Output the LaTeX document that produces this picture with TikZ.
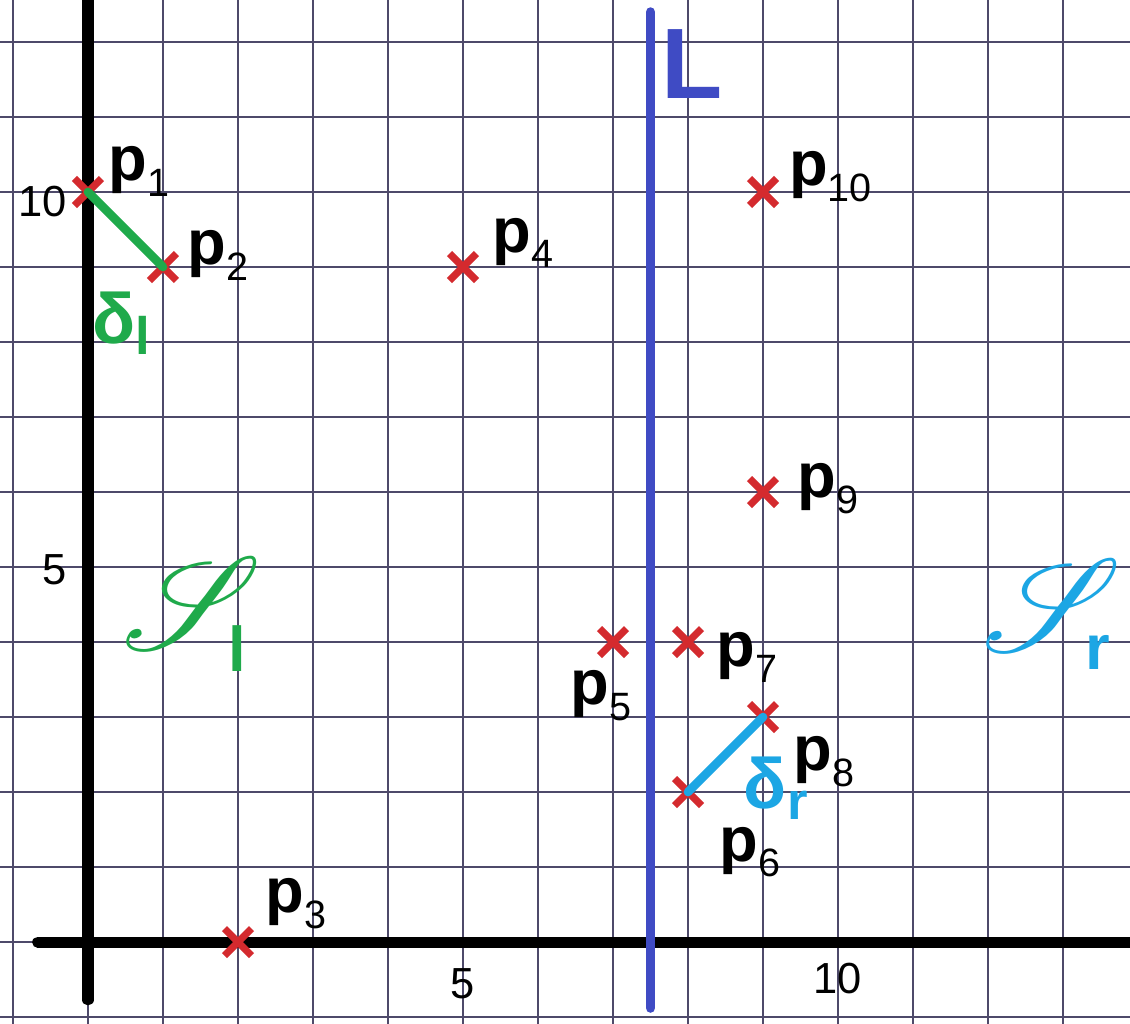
\documentclass[tikz,border=0pt]{standalone}
\usepackage{fontspec}
\setmainfont{Liberation Sans}
\DeclareFontFamily{U}{rsfs}{\skewchar\font127 }
\DeclareFontShape{U}{rsfs}{m}{n}{<-> rsfs10}{}
\usepackage{mathrsfs}
\usetikzlibrary{shapes.misc}
\definecolor{GridInk}{HTML}{4E4A6A}
\definecolor{LineBlue}{HTML}{3F4BC4}
\definecolor{CrossRed}{HTML}{D42A2E}
\definecolor{LeftGreen}{HTML}{1FAA4B}
\definecolor{RightCyan}{HTML}{1CA6E4}
\tikzset{
  gridline/.style={draw=GridInk, line width=1.05pt},
  axisline/.style={draw=black, line width=4.2pt, line cap=round},
  cutline/.style={draw=LineBlue, line width=3.6pt, line cap=round},
  crossmark/.style={cross out, draw=CrossRed, line width=2.7pt, minimum size=0.36cm, inner sep=0pt, outer sep=0pt},
  pairseg/.style={line width=3.3pt, line cap=round},
  ptlabel/.style={inner sep=0pt, font=\fontsize{24}{24}\selectfont},
  numlabel/.style={inner sep=0pt, font=\fontsize{16.5}{16.5}\selectfont},
  deltalabel/.style={inner sep=0pt, font=\fontsize{27}{27}\selectfont\bfseries},
  regionlabel/.style={inner sep=0pt, anchor=base west, font=\fontsize{50}{50}\selectfont}
}
\newcommand{\plab}[1]{{\bfseries p}\raisebox{-6pt}{\fontsize{15}{15}\selectfont #1}}
\newcommand{\dlab}[1]{δ\raisebox{-4pt}{\fontsize{20}{20}\selectfont #1}}
\newcommand{\slab}[3]{$\mathscr{S}$\kern#2\raisebox{#3}{\fontsize{24}{24}\selectfont\bfseries #1}}

\begin{document}
\begin{tikzpicture}
\useasboundingbox[fill=white] (-1.173,-1.08) rectangle (13.893,12.56);
% squared paper
\foreach \x in {-1,...,13}
  \draw[gridline] (\x,-1.2) -- (\x,12.7);
\foreach \y in {-1,...,12}
  \draw[gridline] (-1.3,\y) -- (14,\y);
% axes and the dividing line
\draw[axisline] (0,12.7) -- (0,-0.77);
\draw[axisline] (-0.67,0) -- (14.2,0);
\draw[cutline] (7.5,12.4) -- (7.5,-0.88);
\node[inner sep=0pt, text=LineBlue, font=\fontsize{38}{38}\selectfont\bfseries] (L) at (8.05,11.7) {L};
% tick numbers
\node[numlabel] (ylab10) at (-0.61,9.87) {10};
\node[numlabel] (ylab5) at (-0.44,4.96) {5};
\node[numlabel] (xlab5) at (4.99,-0.55) {5};
\node[numlabel] (xlab10) at (9.99,-0.49) {10};
% points
\node[crossmark] (p1) at (0,10) {};
\node[crossmark] (p2) at (1,9) {};
\node[crossmark] (p3) at (2,0) {};
\node[crossmark] (p4) at (5,9) {};
\node[crossmark] (p5) at (7,4) {};
\node[crossmark] (p6) at (8,2) {};
\node[crossmark] (p7) at (8,4) {};
\node[crossmark] (p8) at (9,3) {};
\node[crossmark] (p9) at (9,6) {};
\node[crossmark] (p10) at (9,10) {};
\node[ptlabel] (lp1) at (0.68,10.27) {\plab{1}};
\node[ptlabel] (lp2) at (1.73,9.15) {\plab{2}};
\node[ptlabel] (lp3) at (2.77,0.51) {\plab{3}};
\node[ptlabel] (lp4) at (5.8,9.32) {\plab{4}};
\node[ptlabel] (lp5) at (6.84,3.29) {\plab{5}};
\node[ptlabel] (lp6) at (8.83,1.2) {\plab{6}};
\node[ptlabel] (lp7) at (8.79,3.79) {\plab{7}};
\node[ptlabel] (lp8) at (9.81,2.41) {\plab{8}};
\node[ptlabel] (lp9) at (9.87,6.04) {\plab{9}};
\node[ptlabel] (lp10) at (9.9,10.21) {\plab{10}};
% closest pairs on each side
\draw[pairseg, draw=LeftGreen] (p1.center) -- (p2.center);
\draw[pairseg, draw=RightCyan] (p6.center) -- (p8.center);
\node[deltalabel, text=LeftGreen] (dl) at (0.45,8.25) {\dlab{l}};
\node[deltalabel, text=RightCyan] (dr) at (9.17,2.05) {\dlab{r}};
% the two halves
\node[regionlabel, text=LeftGreen] (Sl) at (0.45,3.9) {\slab{l}{-0.44cm}{-0.29cm}};
\node[regionlabel, text=RightCyan] (Sr) at (11.92,3.88) {\slab{r}{-0.49cm}{-0.25cm}};
\end{tikzpicture}
\end{document}
